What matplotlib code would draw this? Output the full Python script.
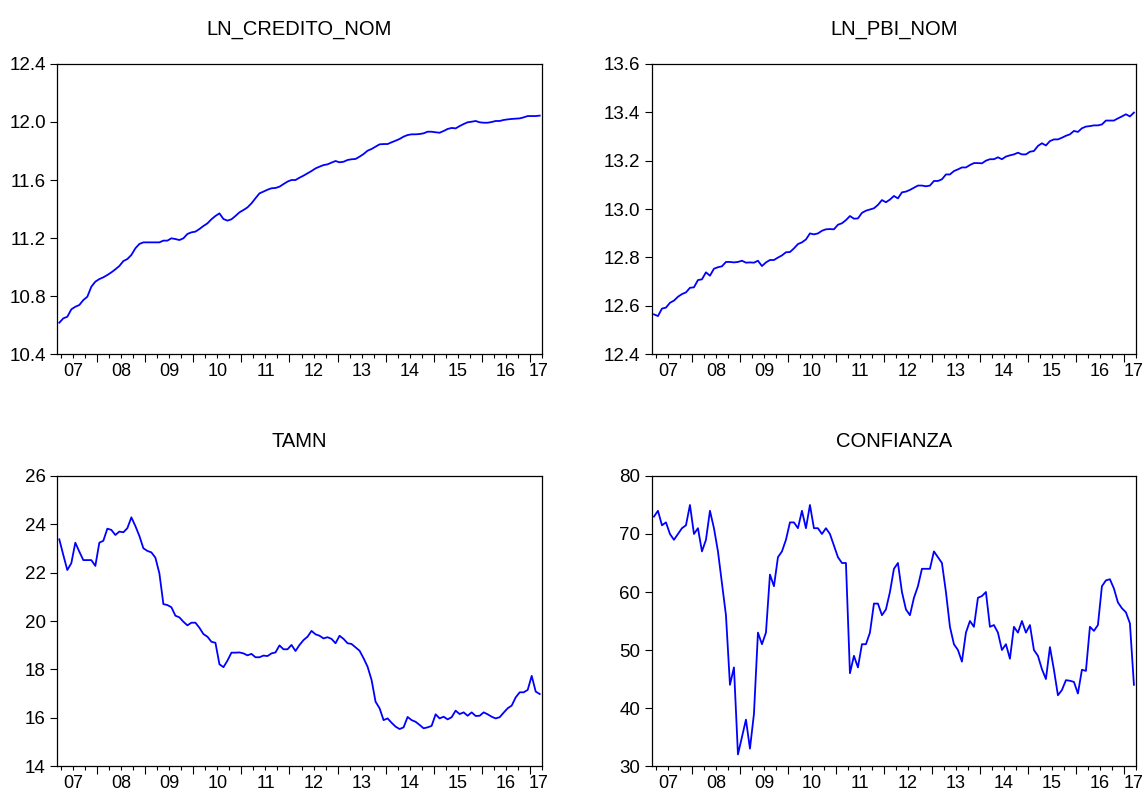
import matplotlib.pyplot as plt
import matplotlib.transforms as mtransforms
import numpy as np

plt.rcParams['font.family'] = ['Liberation Sans', 'DejaVu Sans']

# Monthly series, 2007M03 - 2017M03 (121 obs)
ln_credito_nom = [
    10.616, 10.646, 10.657, 10.708, 10.726, 10.738, 10.772, 10.795, 10.864, 10.899,
    10.917, 10.929, 10.945, 10.963, 10.984, 11.007, 11.041, 11.055, 11.083, 11.129,
    11.159, 11.170, 11.170, 11.170, 11.170, 11.170, 11.182, 11.182, 11.198, 11.193,
    11.186, 11.198, 11.228, 11.239, 11.244, 11.262, 11.283, 11.301, 11.329, 11.352,
    11.370, 11.331, 11.320, 11.329, 11.352, 11.377, 11.393, 11.411, 11.439, 11.474,
    11.508, 11.520, 11.533, 11.543, 11.545, 11.554, 11.572, 11.589, 11.600, 11.600,
    11.616, 11.630, 11.646, 11.662, 11.680, 11.692, 11.703, 11.708, 11.720, 11.731,
    11.722, 11.726, 11.738, 11.743, 11.745, 11.761, 11.779, 11.802, 11.814, 11.830,
    11.846, 11.848, 11.848, 11.860, 11.871, 11.883, 11.899, 11.910, 11.915, 11.915,
    11.917, 11.922, 11.933, 11.933, 11.929, 11.926, 11.938, 11.952, 11.959, 11.956,
    11.972, 11.986, 11.998, 12.002, 12.007, 11.998, 11.995, 11.995, 12.000, 12.007,
    12.007, 12.014, 12.018, 12.021, 12.023, 12.025, 12.032, 12.041, 12.041, 12.041,
    12.044,
]

ln_pbi_nom = [
    12.564, 12.557, 12.588, 12.592, 12.612, 12.621, 12.637, 12.648, 12.655, 12.674,
    12.676, 12.706, 12.709, 12.738, 12.724, 12.753, 12.759, 12.763, 12.781, 12.781,
    12.779, 12.781, 12.786, 12.778, 12.779, 12.778, 12.786, 12.764, 12.779, 12.789,
    12.789, 12.799, 12.808, 12.821, 12.822, 12.837, 12.855, 12.862, 12.874, 12.899,
    12.895, 12.899, 12.910, 12.916, 12.917, 12.916, 12.935, 12.941, 12.954, 12.971,
    12.960, 12.961, 12.984, 12.993, 12.998, 13.003, 13.017, 13.037, 13.028, 13.039,
    13.054, 13.044, 13.069, 13.072, 13.079, 13.088, 13.097, 13.097, 13.094, 13.097,
    13.116, 13.116, 13.123, 13.143, 13.143, 13.157, 13.164, 13.172, 13.172, 13.182,
    13.190, 13.190, 13.189, 13.200, 13.206, 13.206, 13.214, 13.206, 13.217, 13.222,
    13.226, 13.233, 13.226, 13.226, 13.237, 13.240, 13.261, 13.272, 13.263, 13.281,
    13.288, 13.288, 13.295, 13.303, 13.309, 13.323, 13.319, 13.334, 13.341, 13.343,
    13.346, 13.346, 13.350, 13.366, 13.366, 13.366, 13.375, 13.383, 13.392, 13.383,
    13.399,
]

tamn = [
    23.38, 22.73, 22.11, 22.39, 23.24, 22.87, 22.52, 22.52, 22.52, 22.28,
    23.24, 23.32, 23.82, 23.77, 23.56, 23.70, 23.67, 23.84, 24.29, 23.93,
    23.52, 23.01, 22.90, 22.84, 22.62, 21.97, 20.70, 20.66, 20.57, 20.22,
    20.15, 19.97, 19.82, 19.93, 19.93, 19.72, 19.46, 19.35, 19.14, 19.10,
    18.21, 18.09, 18.36, 18.69, 18.69, 18.70, 18.66, 18.58, 18.64, 18.50,
    18.50, 18.57, 18.55, 18.66, 18.70, 18.99, 18.83, 18.83, 19.01, 18.76,
    19.01, 19.21, 19.35, 19.59, 19.45, 19.39, 19.28, 19.33, 19.26, 19.08,
    19.39, 19.26, 19.08, 19.05, 18.91, 18.77, 18.46, 18.11, 17.56, 16.66,
    16.39, 15.90, 15.97, 15.79, 15.63, 15.53, 15.60, 16.03, 15.90, 15.83,
    15.70, 15.56, 15.60, 15.66, 16.14, 15.97, 16.04, 15.93, 16.02, 16.29,
    16.15, 16.22, 16.08, 16.22, 16.07, 16.08, 16.22, 16.14, 16.04, 15.97,
    16.02, 16.21, 16.39, 16.50, 16.84, 17.05, 17.05, 17.15, 17.73, 17.08,
    16.98,
]

confianza = [
    73, 74, 71.5, 72, 70, 69, 70, 71, 71.5, 75,
    70, 71, 67, 69, 74, 71, 67, 61.5, 56, 44,
    47, 32, 35, 38, 33, 39, 53, 51, 53, 63,
    61, 66, 67, 69, 72, 72, 71, 74, 71, 75,
    71, 71, 70, 71, 70, 68, 66, 65, 65, 46,
    49, 47, 51, 51, 53, 58, 58, 56, 57, 60,
    64, 65, 60, 57, 56, 59, 61, 64, 64, 64,
    67, 66, 65, 60, 54, 51, 50, 48, 53, 55,
    54, 59, 59.3, 60, 54, 54.3, 53, 50, 51, 48.5,
    54, 53, 55, 53, 54.3, 50, 49, 46.7, 45, 50.5,
    46.6, 42.2, 43.1, 44.8, 44.7, 44.5, 42.5, 46.6, 46.4, 54,
    53.3, 54.3, 61, 62, 62.2, 60.6, 58.2, 57.2, 56.5, 54.6,
    44,
]

year_labels = ['07', '08', '09', '10', '11', '12', '13', '14', '15', '16', '17']

panels = [
    ('LN_CREDITO_NOM', ln_credito_nom, (10.4, 12.4), np.arange(10.4, 12.41, 0.4), '{:.1f}'),
    ('LN_PBI_NOM', ln_pbi_nom, (12.4, 13.6), np.arange(12.4, 13.61, 0.2), '{:.1f}'),
    ('TAMN', tamn, (14, 26), np.arange(14, 27, 2), '{:.0f}'),
    ('CONFIANZA', confianza, (30, 80), np.arange(30, 81, 10), '{:.0f}'),
]

# axes boxes in figure fractions: left, bottom, width, height
boxes = [
    (0.0500, 0.5530, 0.4227, 0.3662),
    (0.5689, 0.5530, 0.4223, 0.3662),
    (0.0500, 0.0328, 0.4227, 0.3662),
    (0.5689, 0.0328, 0.4223, 0.3662),
]

n_obs = len(tamn)
x = np.arange(n_obs) + 0.5           # month centres, March 2007 = 0
jan_ticks = np.arange(10, n_obs, 12)  # January of each year
quarter_ticks = [q for q in range(1, n_obs + 1, 3) if (q - 10) % 12 != 0]
label_pos = list(np.arange(4, n_obs, 12)) + [120.3]  # mid-year label spots

fig = plt.figure(figsize=(11.46, 7.92), dpi=100)

for (title, values, ylim, yticks, fmt), box in zip(panels, boxes):
    ax = fig.add_axes(box)
    ax.plot(x, values, color='#0000ff', linewidth=1.3)
    ax.set_xlim(0, n_obs)
    ax.set_ylim(*ylim)
    ax.set_title(title, fontsize=14.5, pad=21)

    ax.set_yticks(yticks)
    ax.set_yticklabels([fmt.format(v) for v in yticks], fontsize=13.5)
    ax.tick_params(axis='y', direction='out', length=5.3, width=0.8, pad=3)

    ax.set_xticks(jan_ticks)
    ax.set_xticks(quarter_ticks, minor=True)
    ax.set_xticklabels([])
    ax.tick_params(axis='x', which='major', direction='out', length=6, width=0.8)
    ax.tick_params(axis='x', which='minor', direction='out', length=3, width=0.8)

    # year labels sit in the middle of each year
    trans = mtransforms.blended_transform_factory(ax.transData, ax.transAxes)
    for pos, lab in zip(label_pos, year_labels):
        ax.text(pos, -0.077, lab, transform=trans, ha='center', va='baseline', fontsize=13)

    for spine in ax.spines.values():
        spine.set_linewidth(0.9)

fig.savefig('out.png', dpi=100)
